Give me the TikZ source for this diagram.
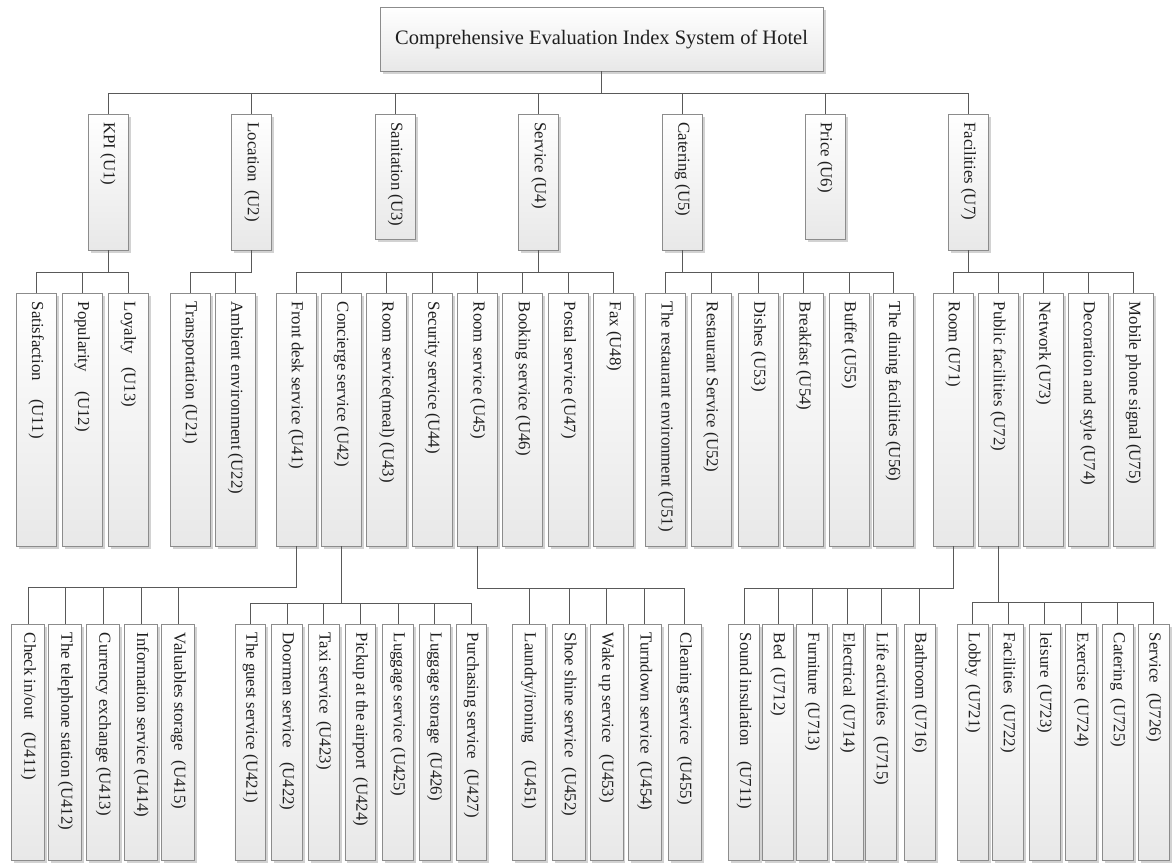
\documentclass[tikz,border=0pt]{standalone}
\usepackage{fontspec}
\setmainfont{Liberation Serif}
\usepackage{graphicx}
\usetikzlibrary{shadows,calc}
\newcommand\vlab[2]{\rotatebox{-90}{\makebox[#1][l]{#2}}}
\begin{document}
\begin{tikzpicture}[x=1pt,y=-1pt,
  box/.style={rectangle, draw=black!45, line width=0.8pt, top color=white, bottom color=black!9,
    inner sep=0pt, text=black!88, font=\fontsize{16.8}{20}\selectfont,
    drop shadow={shadow xshift=2.5pt, shadow yshift=-2.5pt, fill=black!25, opacity=0.7}},
  lA/.style={box, minimum width=40pt, minimum height=136pt},
  lS/.style={box, minimum width=40pt, minimum height=125pt},
  lB/.style={box, minimum width=40pt, minimum height=252.7pt},
  lC/.style={box, minimum width=#1, minimum height=235.7pt},
  lC/.default=32pt,
  wire/.style={draw=black!65, line width=0.9pt},
  elbow/.style={to path={-- ++(0,#1) -| (\tikztotarget)}},
]
\useasboundingbox (0,0) rectangle (1172,862);

% root
\node[box, minimum width=443pt, minimum height=64pt, font=\fontsize{20.5}{24}\selectfont] (title) at (601.6,39) {Comprehensive Evaluation Index System of Hotel};

% level 1
\node[lA] (u1) at (108,182) {\vlab{119pt}{KPI (U1)}};
\node[lA] (u2) at (251.8,182) {\vlab{119pt}{Location\hspace{8pt}(U2)}};
\node[lS] (u3) at (395.3,176.5) {\vlab{108pt}{Sanitation (U3)}};
\node[lA] (u4) at (538.8,182) {\vlab{119pt}{Service (U4)}};
\node[lA] (u5) at (682.5,182) {\vlab{119pt}{Catering (U5)}};
\node[lS] (u6) at (825,176.5) {\vlab{108pt}{Price (U6)}};
\node[lA] (u7) at (968.5,182) {\vlab{119pt}{Facilities (U7)}};

% level 2
\node[lB] (u11) at (36.3,419.65) {\vlab{235.7pt}{Satisfaction\hspace{18pt}(U11)}};
\node[lB] (u12) at (82.2,419.65) {\vlab{235.7pt}{Popularity\hspace{20pt}(U12)}};
\node[lB] (u13) at (128.5,419.65) {\vlab{235.7pt}{Loyalty\hspace{13pt}(U13)}};
\node[lB] (u21) at (190,419.65) {\vlab{235.7pt}{Transportation (U21)}};
\node[lB] (u22) at (235.5,419.65) {\vlab{235.7pt}{Ambient environment (U22)}};
\node[lB] (u41) at (296,419.65) {\vlab{235.7pt}{Front desk service (U41)}};
\node[lB] (u42) at (341.3,419.65) {\vlab{235.7pt}{Concierge service (U42)}};
\node[lB] (u43) at (386.7,419.65) {\vlab{235.7pt}{Room service(meal) (U43)}};
\node[lB] (u44) at (432.3,419.65) {\vlab{235.7pt}{Security service (U44)}};
\node[lB] (u45) at (477.7,419.65) {\vlab{235.7pt}{Room service (U45)}};
\node[lB] (u46) at (522.8,419.65) {\vlab{235.7pt}{Booking service (U46)}};
\node[lB] (u47) at (568.5,419.65) {\vlab{235.7pt}{Postal service (U47)}};
\node[lB] (u48) at (613.8,419.65) {\vlab{235.7pt}{Fax (U48)}};
\node[lB] (u51) at (665.7,419.65) {\vlab{235.7pt}{The restaurant environment (U51)}};
\node[lB] (u52) at (711,419.65) {\vlab{235.7pt}{Restaurant Service (U52)}};
\node[lB] (u53) at (758.3,419.65) {\vlab{235.7pt}{Dishes (U53)}};
\node[lB] (u54) at (803.7,419.65) {\vlab{235.7pt}{Breakfast (U54)}};
\node[lB] (u55) at (849,419.65) {\vlab{235.7pt}{Buffet (U55)}};
\node[lB] (u56) at (893.3,419.65) {\vlab{235.7pt}{The dining facilities (U56)}};
\node[lB] (u71) at (953,419.65) {\vlab{235.7pt}{Room (U71)}};
\node[lB] (u72) at (998,419.65) {\vlab{235.7pt}{Public facilities (U72)}};
\node[lB] (u73) at (1043.3,419.65) {\vlab{235.7pt}{Network (U73)}};
\node[lB] (u74) at (1088,419.65) {\vlab{235.7pt}{Decoration and style (U74)}};
\node[lB] (u75) at (1133.3,419.65) {\vlab{235.7pt}{Mobile phone signal (U75)}};

% level 3
\node[lC=33pt] (u411) at (28.3,742.15) {\vlab{218.7pt}{Check in/out\hspace{13pt}(U411)}};
\node[lC=33pt] (u412) at (65.3,742.15) {\vlab{218.7pt}{The telephone station (U412)}};
\node[lC=33pt] (u413) at (103.3,742.15) {\vlab{218.7pt}{Currency exchange (U413)}};
\node[lC=33pt] (u414) at (141.2,742.15) {\vlab{218.7pt}{Information service (U414)}};
\node[lC=33pt] (u415) at (178.3,742.15) {\vlab{218.7pt}{Valuables storage\hspace{10pt}(U415)}};

\node[lC=30.7pt] (u421) at (250.3,742.15) {\vlab{218.7pt}{The guest service (U421)}};
\node[lC=30.7pt] (u422) at (287,742.15) {\vlab{218.7pt}{Doormen service\hspace{14pt}(U422)}};
\node[lC=30.7pt] (u423) at (323.7,742.15) {\vlab{218.7pt}{Taxi service\hspace{7pt}(U423)}};
\node[lC=30.7pt] (u424) at (360.3,742.15) {\vlab{218.7pt}{Pickup at the airport\hspace{8pt}(U424)}};
\node[lC=30.7pt] (u425) at (398,742.15) {\vlab{218.7pt}{Luggage service (U425)}};
\node[lC=30.7pt] (u426) at (434.7,742.15) {\vlab{218.7pt}{Luggage storage\hspace{8pt}(U426)}};
\node[lC=30.7pt] (u427) at (471.3,742.15) {\vlab{218.7pt}{Purchasing service\hspace{10pt}(U427)}};

\node[lC=33pt] (u451) at (529,742.15) {\vlab{218.7pt}{Laundry/ironing\hspace{18pt}(U451)}};
\node[lC=33pt] (u452) at (569,742.15) {\vlab{218.7pt}{Shoe shine service\hspace{10pt}(U452)}};
\node[lC=33pt] (u453) at (606.4,742.15) {\vlab{218.7pt}{Wake up service\hspace{11pt}(U453)}};
\node[lC=33pt] (u454) at (644.6,742.15) {\vlab{218.7pt}{Turndown service\hspace{8pt}(U454)}};
\node[lC=33pt] (u455) at (684.5,742.15) {\vlab{218.7pt}{Cleaning service\hspace{11pt}(U455)}};

\node[lC=31pt] (u711) at (744.2,742.15) {\vlab{218.7pt}{Sound insulation\hspace{15pt}(U711)}};
\node[lC=31pt] (u712) at (778,742.15) {\vlab{218.7pt}{Bed\hspace{8pt}(U712)}};
\node[lC=31pt] (u713) at (812.3,742.15) {\vlab{218.7pt}{Furniture\hspace{7pt}(U713)}};
\node[lC=31pt] (u714) at (847.7,742.15) {\vlab{218.7pt}{Electrical\hspace{7pt}(U714)}};
\node[lC=31pt] (u715) at (881,742.15) {\vlab{218.7pt}{Life activities\hspace{11pt}(U715)}};
\node[lC=31pt] (u716) at (919.5,742.15) {\vlab{218.7pt}{Bathroom (U716)}};

\node[lC=31pt] (u721) at (972.8,742.15) {\vlab{218.7pt}{Lobby\hspace{8pt}(U721)}};
\node[lC=31pt] (u722) at (1008,742.15) {\vlab{218.7pt}{Facilities\hspace{10pt}(U722)}};
\node[lC=31pt] (u723) at (1044.5,742.15) {\vlab{218.7pt}{leisure\hspace{7pt}(U723)}};
\node[lC=31pt] (u724) at (1081.3,742.15) {\vlab{218.7pt}{Exercise\hspace{8pt}(U724)}};
\node[lC=31pt] (u725) at (1117.8,742.15) {\vlab{218.7pt}{Catering\hspace{8pt}(U725)}};
\node[lC=31pt] (u726) at (1153.7,742.15) {\vlab{218.7pt}{Service\hspace{10pt}(U726)}};

% connectors
\foreach \c in {u1,u2,u3,u4,u5,u6,u7} \draw[wire] (title.south) to[elbow=22.5] (\c.north);
\foreach \c in {u11,u12,u13} \draw[wire] (u1.south) to[elbow=22.3] (\c.north);
\foreach \c in {u21,u22} \draw[wire] (u2.south) to[elbow=22.3] (\c.north);
\foreach \c in {u41,u42,u43,u44,u45,u46,u47,u48} \draw[wire] (u4.south) to[elbow=22.3] (\c.north);
\foreach \c in {u51,u52,u53,u54,u55,u56} \draw[wire] (u5.south) to[elbow=22.3] (\c.north);
\foreach \c in {u71,u72,u73,u74,u75} \draw[wire] (u7.south) to[elbow=22.3] (\c.north);
\foreach \c in {u411,u412,u413,u414,u415} \draw[wire] (u41.south) to[elbow=40.7] (\c.north);
\foreach \c in {u421,u422,u423,u424,u425,u426,u427} \draw[wire] (u42.south) to[elbow=57.3] (\c.north);
\foreach \c in {u451,u452,u453,u454,u455} \draw[wire] (u45.south) to[elbow=42.3] (\c.north);
\foreach \c in {u711,u712,u713,u714,u715,u716} \draw[wire] (u71.south) to[elbow=42.3] (\c.north);
\foreach \c in {u721,u722,u723,u724,u725,u726} \draw[wire] (u72.south) to[elbow=55.7] (\c.north);
\end{tikzpicture}
\end{document}
